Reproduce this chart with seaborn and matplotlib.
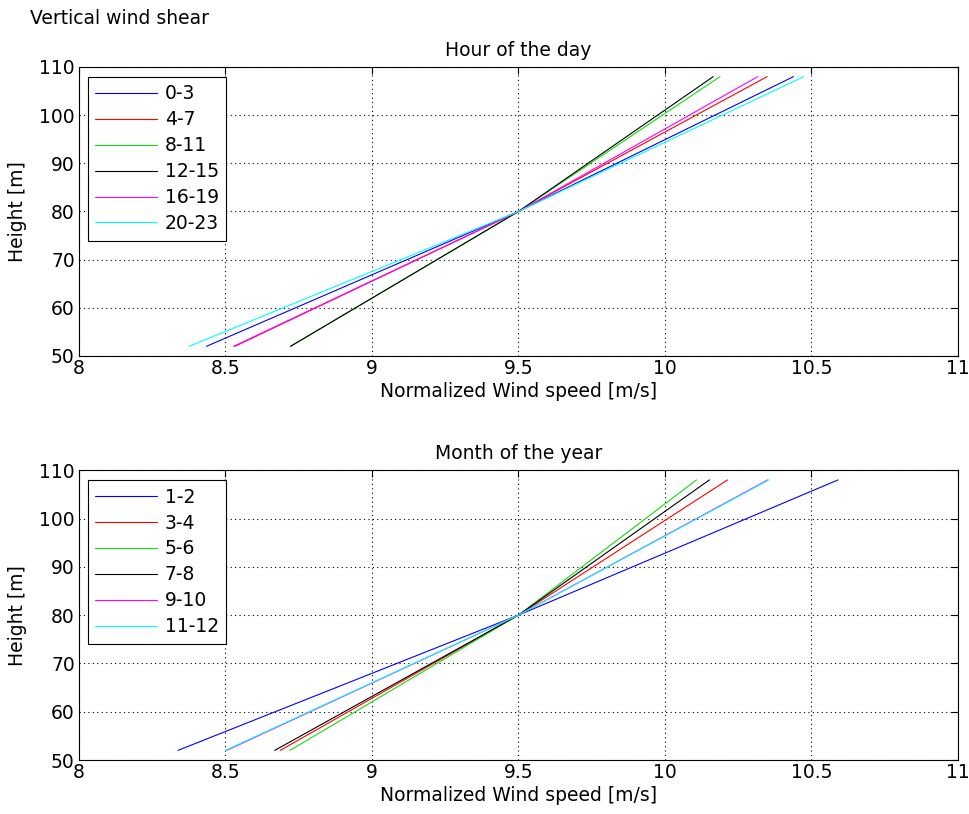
import numpy as np
import pandas as pd
import matplotlib
matplotlib.use("Agg")
import matplotlib.pyplot as plt
import seaborn as sns

# Heights at which speeds were read [m]
heights = [52, 80, 108]

# Hour of the day groups
hour_labels = ["0-3", "4-7", "8-11", "12-15", "16-19", "20-23"]
hour_speed_52 = [8.435, 8.532, 8.722, 8.722, 8.528, 8.376]
hour_speed_80 = [9.5, 9.5, 9.5, 9.5, 9.5, 9.5]
hour_speed_108 = [10.439, 10.349, 10.188, 10.165, 10.317, 10.474]

# Month of the year groups
month_labels = ["1-2", "3-4", "5-6", "7-8", "9-10", "11-12"]
month_speed_52 = [8.338, 8.687, 8.72, 8.668, 8.505, 8.50]
month_speed_80 = [9.5, 9.5, 9.5, 9.5, 9.5, 9.5]
month_speed_108 = [10.591, 10.214, 10.108, 10.152, 10.351, 10.355]

colors = ["#0000ff", "#ff0000", "#11dd11", "#000000", "#ff00ff", "#00ffff"]

x_ticks = [8, 8.5, 9, 9.5, 10, 10.5, 11]
x_ticklabels = ["8", "8.5", "9", "9.5", "10", "10.5", "11"]
y_ticks = [50, 60, 70, 80, 90, 100, 110]


def make_df(labels, s52, s80, s108):
    rows = []
    for i, lab in enumerate(labels):
        for h, s in zip(heights, [s52[i], s80[i], s108[i]]):
            rows.append({"group": lab, "height": h, "speed": s})
    return pd.DataFrame(rows)


sns.set_style("white")
plt.rcParams["font.family"] = ["DejaVu Sans"]
FS = 13.5
plt.rcParams["font.size"] = FS
for k in ["text.color", "axes.labelcolor", "xtick.color", "ytick.color"]:
    plt.rcParams[k] = "black"

fig = plt.figure(figsize=(9.69, 8.14), dpi=100)
ax1 = fig.add_axes([0.0815, 0.5627, 0.907, 0.355])
ax2 = fig.add_axes([0.0815, 0.0663, 0.907, 0.356])

panels = [
    (ax1, make_df(hour_labels, hour_speed_52, hour_speed_80, hour_speed_108), hour_labels, "Hour of the day"),
    (ax2, make_df(month_labels, month_speed_52, month_speed_80, month_speed_108), month_labels, "Month of the year"),
]

for ax, df, labels, title in panels:
    sns.lineplot(data=df, x="speed", y="height", hue="group", hue_order=labels,
                 palette=colors, sort=False, estimator=None, linewidth=0.8, ax=ax)
    ax.set_xlim(8, 11)
    ax.set_ylim(50, 110)
    ax.set_xticks(x_ticks)
    ax.set_xticklabels(x_ticklabels)
    ax.set_yticks(y_ticks)
    ax.grid(True, linestyle=(0, (1, 3)), color="black", linewidth=0.8)
    ax.tick_params(direction="in", length=5, top=True, right=True, labelsize=FS,
                   color="black", width=0.8, pad=3)
    ax.tick_params(axis="x", pad=2)
    for sp in ax.spines.values():
        sp.set_color("black")
        sp.set_linewidth(0.8)
    ax.set_xlabel("Normalized Wind speed [m/s]", fontsize=FS, labelpad=3)
    ax.set_ylabel("Height [m]", fontsize=FS, labelpad=9)
    ax.set_title(title, fontsize=FS, pad=8)
    leg = ax.legend(loc="upper left", bbox_to_anchor=(0.010, 0.966), fontsize=FS,
                    handlelength=3.3, handletextpad=0.4, labelspacing=0.37,
                    borderpad=0.4, fancybox=False, framealpha=1, borderaxespad=0)
    leg.get_frame().set_edgecolor("black")
    leg.get_frame().set_linewidth(0.8)
    leg.set_title(None)

fig.text(0.031, 0.977, "Vertical wind shear", fontsize=FS, ha="left", va="center")

fig.savefig("out.png", dpi=100)
